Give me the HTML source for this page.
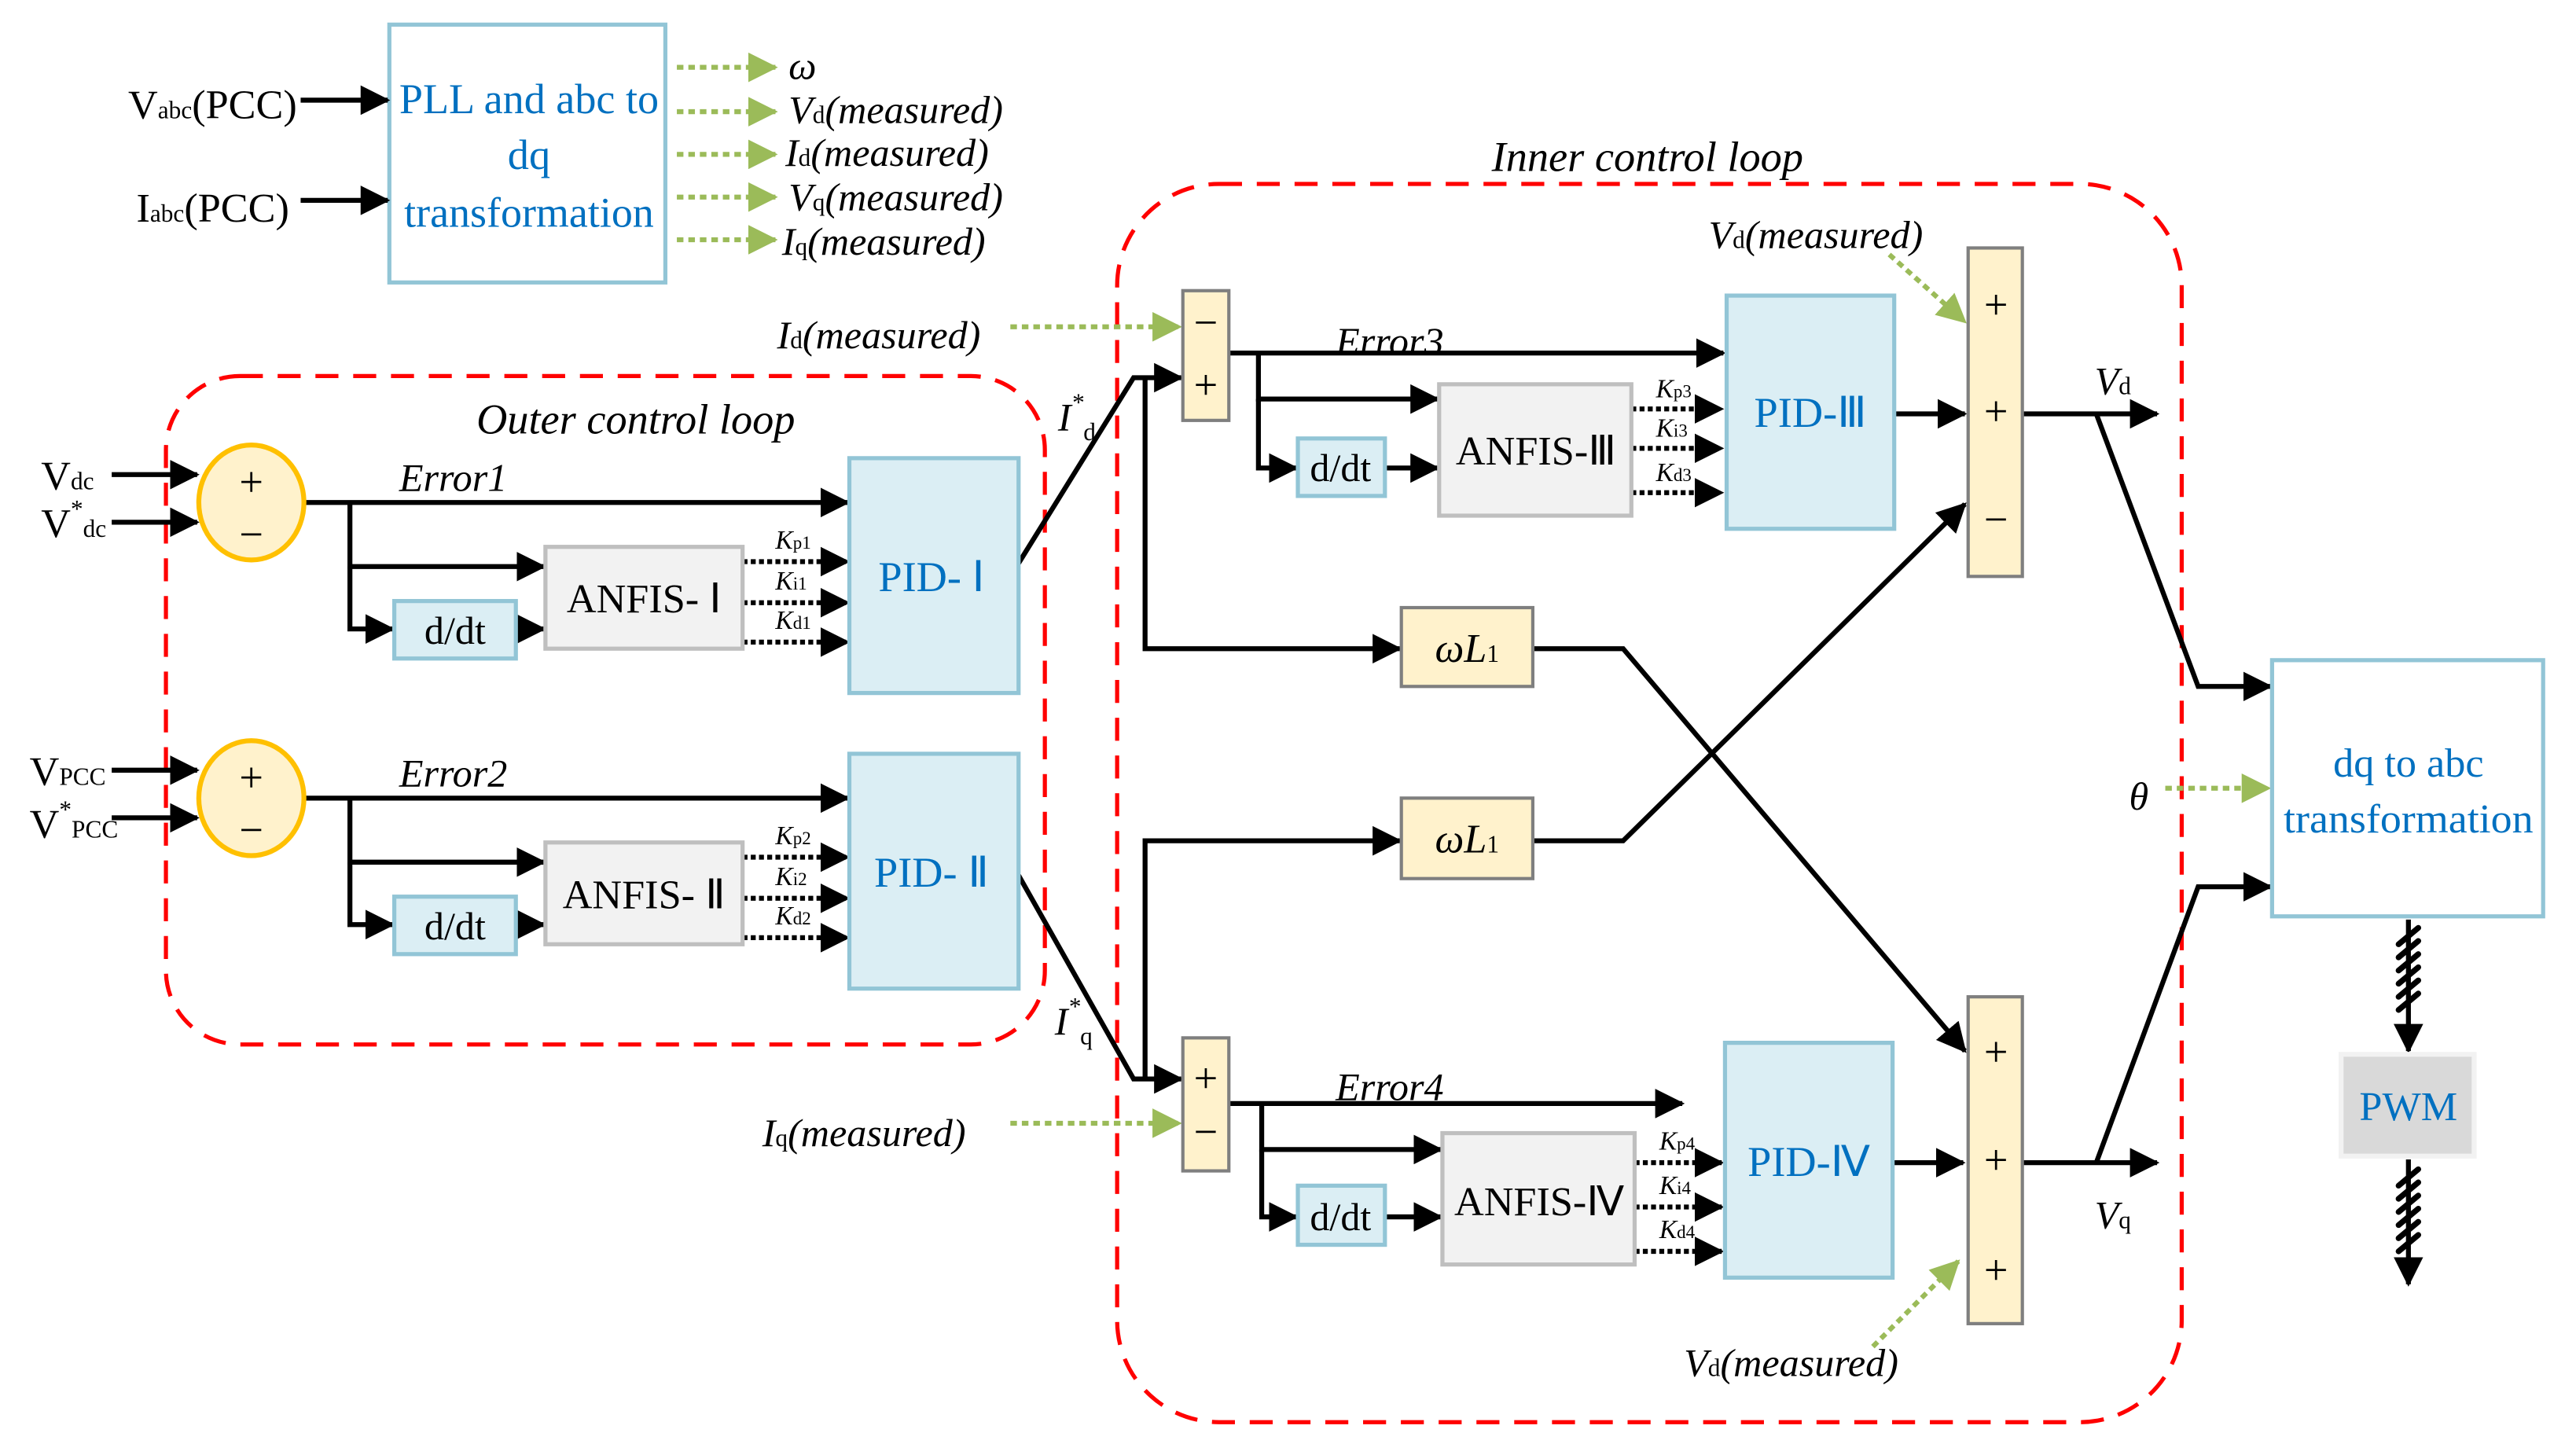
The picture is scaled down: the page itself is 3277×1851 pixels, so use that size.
<!DOCTYPE html>
<html><head><meta charset="utf-8"><style>
html,body{margin:0;padding:0;background:#fff}
svg{display:block}
text{font-family:"Liberation Serif",serif}
.it{font-style:italic}
.b{fill:#0070c0}
</style></head><body>
<svg width="3277" height="1851" viewBox="0 0 1568 886" preserveAspectRatio="none" xmlns="http://www.w3.org/2000/svg">
<defs>
<marker id="a" markerWidth="6" markerHeight="6" refX="5.5" refY="3" orient="auto" markerUnits="strokeWidth"><path d="M0,0 L6,3 L0,6 z" fill="#000"/></marker>
<marker id="g" markerWidth="6" markerHeight="6" refX="5.5" refY="3" orient="auto" markerUnits="strokeWidth"><path d="M0,0 L6,3 L0,6 z" fill="#9bbb59"/></marker>
</defs>
<g fill="none">
<rect x="101" y="229" width="535" height="407" rx="45" stroke="#ff0000" stroke-width="2.5" stroke-dasharray="14,9"/>
<rect x="680" y="112" width="648" height="754" rx="62" stroke="#ff0000" stroke-width="2.5" stroke-dasharray="14,9"/>
</g>
<rect x="237" y="15" width="168" height="157" fill="#fff" stroke="#92c5d6" stroke-width="2.5"/>
<text class="b" x="322" y="69" font-size="26" text-anchor="middle" textLength="158" lengthAdjust="spacingAndGlyphs">PLL and abc to</text>
<text class="b" x="322" y="103" font-size="26" text-anchor="middle">dq</text>
<text class="b" x="322" y="138" font-size="26" text-anchor="middle" textLength="152" lengthAdjust="spacingAndGlyphs">transformation</text>
<g stroke="#000" stroke-width="3" fill="none" marker-end="url(#a)">
<line x1="183" y1="61" x2="236" y2="61"/><line x1="183" y1="122" x2="236" y2="122"/>
</g>
<text x="78" y="72" font-size="25">V<tspan font-size="15">abc</tspan>(PCC)</text>
<text x="83" y="135" font-size="25">I<tspan font-size="15">abc</tspan>(PCC)</text>
<g stroke="#9bbb59" stroke-width="3" stroke-dasharray="4,3" fill="none" marker-end="url(#g)">
<line x1="412" y1="41" x2="472" y2="41"/><line x1="412" y1="68" x2="472" y2="68"/><line x1="412" y1="94" x2="472" y2="94"/><line x1="412" y1="120" x2="472" y2="120"/><line x1="412" y1="146" x2="472" y2="146"/>
<line x1="615" y1="199" x2="718" y2="199"/><line x1="615" y1="684" x2="718" y2="684"/>
<line x1="1150" y1="155" x2="1196" y2="196"/><line x1="1140" y1="820" x2="1192" y2="768"/>
<line x1="1318" y1="480" x2="1381" y2="480"/>
</g>
<g class="it" font-size="24">
<text x="480" y="48">ω</text>
<text x="480" y="75">V<tspan font-size="15" font-style="normal">d</tspan>(measured)</text>
<text x="478" y="101">I<tspan font-size="15" font-style="normal">d</tspan>(measured)</text>
<text x="480" y="128">V<tspan font-size="15" font-style="normal">q</tspan>(measured)</text>
<text x="476" y="155">I<tspan font-size="15" font-style="normal">q</tspan>(measured)</text>
<text x="473" y="212">I<tspan font-size="15" font-style="normal">d</tspan>(measured)</text>
<text x="464" y="698">I<tspan font-size="15" font-style="normal">q</tspan>(measured)</text>
<text x="1040" y="151">V<tspan font-size="15" font-style="normal">d</tspan>(measured)</text>
<text x="1025" y="838">V<tspan font-size="15" font-style="normal">d</tspan>(measured)</text>
<text x="290" y="264" font-size="26">Outer control loop</text>
<text x="908" y="104" font-size="26">Inner control loop</text>
<text x="243" y="299">Error1</text>
<text x="243" y="479">Error2</text>
<text x="813" y="216">Error3</text>
<text x="813" y="670">Error4</text>
<text x="1296" y="493">θ</text>
<text x="644" y="262">I<tspan font-size="15" dy="-12">*</tspan><tspan font-size="15" font-style="normal" dy="18">d</tspan></text>
<text x="642" y="630">I<tspan font-size="15" dy="-12">*</tspan><tspan font-size="15" font-style="normal" dy="18">q</tspan></text>
<text x="1275" y="240">V<tspan font-size="15" font-style="normal">d</tspan></text>
<text x="1275" y="748">V<tspan font-size="15" font-style="normal">q</tspan></text>
</g>
<text x="25" y="298" font-size="25">V<tspan font-size="15">dc</tspan></text>
<text x="25" y="327" font-size="25">V<tspan font-size="15" dy="-12">*</tspan><tspan font-size="15" dy="12">dc</tspan></text>
<text x="18" y="478" font-size="25">V<tspan font-size="15">PCC</tspan></text>
<text x="18" y="510" font-size="25">V<tspan font-size="15" dy="-12">*</tspan><tspan font-size="15" dy="12">PCC</tspan></text>
<g stroke="#000" stroke-width="3" fill="none">
<g marker-end="url(#a)">
<line x1="68" y1="289" x2="120" y2="289"/><line x1="68" y1="318" x2="120" y2="318"/>
<line x1="68" y1="469" x2="120" y2="469"/><line x1="68" y1="498" x2="120" y2="498"/>
<line x1="185" y1="306" x2="516" y2="306"/>
<polyline points="213,306 213,345 331,345"/><polyline points="213,345 213,383 239,383"/><line x1="314" y1="383" x2="331" y2="383"/>
<line x1="185" y1="486" x2="516" y2="486"/>
<polyline points="213,486 213,525 331,525"/><polyline points="213,525 213,563 239,563"/><line x1="314" y1="563" x2="331" y2="563"/>
<polyline points="620,343 690,230 719,230"/>
<polyline points="697,230 697,395 852,395"/>
<polyline points="620,533 690,657 719,657"/>
<polyline points="697,657 697,512 852,512"/>
<line x1="748" y1="215" x2="1049" y2="215"/>
<polyline points="766,215 766,243 875,243"/><polyline points="766,243 766,285 789,285"/><line x1="843" y1="285" x2="875" y2="285"/>
<line x1="1153" y1="252" x2="1196" y2="252"/>
<line x1="1231" y1="252" x2="1313" y2="252"/>
<polyline points="1276,252 1338,418 1382,418"/>
<polyline points="933,395 988,395 1196,640"/>
<polyline points="933,512 988,512 1196,307"/>
<line x1="748" y1="672" x2="1024" y2="672"/>
<polyline points="768,672 768,700 877,700"/><polyline points="768,700 768,741 789,741"/><line x1="843" y1="741" x2="877" y2="741"/>
<line x1="1152" y1="708" x2="1195" y2="708"/>
<line x1="1231" y1="708" x2="1313" y2="708"/>
<polyline points="1276,708 1338,540 1382,540"/>
<line x1="1466" y1="560" x2="1466" y2="640"/>
<line x1="1466" y1="706" x2="1466" y2="782"/>
</g>
<g stroke-dasharray="3,2" marker-end="url(#a)">
<line x1="452" y1="342" x2="516" y2="342"/><line x1="452" y1="367" x2="516" y2="367"/><line x1="452" y1="391" x2="516" y2="391"/>
<line x1="452" y1="522" x2="516" y2="522"/><line x1="452" y1="547" x2="516" y2="547"/><line x1="452" y1="571" x2="516" y2="571"/>
<line x1="993" y1="249" x2="1048" y2="249"/><line x1="993" y1="273" x2="1048" y2="273"/><line x1="993" y1="300" x2="1048" y2="300"/>
<line x1="995" y1="708" x2="1048" y2="708"/><line x1="995" y1="735" x2="1048" y2="735"/><line x1="995" y1="762" x2="1048" y2="762"/>
</g>
<g stroke-width="3.5" stroke-linecap="round">
<path d="M1460,575 l12,-10 M1460,583 l12,-10 M1460,591 l12,-10 M1460,599 l12,-10 M1460,607 l12,-10 M1460,615 l12,-10"/>
<path d="M1460,722 l12,-10 M1460,730 l12,-10 M1460,738 l12,-10 M1460,746 l12,-10 M1460,754 l12,-10 M1460,762 l12,-10"/>
</g>
</g>
<ellipse cx="153" cy="306" rx="32" ry="35" fill="#fff2cc" stroke="#ffc000" stroke-width="3"/>
<ellipse cx="153" cy="486" rx="32" ry="35" fill="#fff2cc" stroke="#ffc000" stroke-width="3"/>
<g font-size="26" text-anchor="middle">
<text x="153" y="302">+</text><text x="153" y="334">−</text>
<text x="153" y="482">+</text><text x="153" y="514">−</text>
</g>
<g fill="#fff2cc" stroke="#7f7f7f" stroke-width="2">
<rect x="720" y="177" width="28" height="79"/><rect x="720" y="632" width="28" height="81"/>
<rect x="1198" y="151" width="33" height="200"/><rect x="1198" y="607" width="33" height="199"/>
<rect x="853" y="370" width="80" height="48"/><rect x="853" y="486" width="80" height="49"/>
</g>
<g font-size="26" text-anchor="middle">
<text x="734" y="205">−</text><text x="734" y="243">+</text>
<text x="734" y="665">+</text><text x="734" y="698">−</text>
<text x="1215" y="194">+</text><text x="1215" y="259">+</text><text x="1215" y="325">−</text>
<text x="1215" y="649">+</text><text x="1215" y="715">+</text><text x="1215" y="782">+</text>
</g>
<g class="it" font-size="25" text-anchor="middle">
<text x="893" y="403">ωL<tspan font-size="15" font-style="normal">1</tspan></text>
<text x="893" y="519">ωL<tspan font-size="15" font-style="normal">1</tspan></text>
</g>
<g fill="#dbeef4" stroke="#92c5d6" stroke-width="2.5">
<rect x="240" y="366" width="74" height="35"/><rect x="240" y="546" width="74" height="35"/>
<rect x="790" y="267" width="53" height="35"/><rect x="790" y="722" width="53" height="36"/>
<rect x="517" y="279" width="103" height="143"/><rect x="517" y="459" width="103" height="143"/>
<rect x="1051" y="180" width="102" height="142"/><rect x="1050" y="635" width="102" height="143"/>
</g>
<g font-size="24" text-anchor="middle">
<text x="277" y="392">d/dt</text><text x="277" y="572">d/dt</text>
<text x="816" y="293">d/dt</text><text x="816" y="749">d/dt</text>
</g>
<g class="b" font-size="26" text-anchor="middle">
<text x="567" y="360">PID- Ⅰ</text><text x="567" y="540">PID- Ⅱ</text>
<text x="1102" y="260">PID-Ⅲ</text><text x="1101" y="716">PID-Ⅳ</text>
</g>
<g fill="#f2f2f2" stroke="#bfbfbf" stroke-width="2.5">
<rect x="332" y="333" width="120" height="62"/><rect x="332" y="513" width="120" height="62"/>
<rect x="876" y="234" width="117" height="80"/><rect x="878" y="690" width="117" height="80"/>
</g>
<g font-size="25" text-anchor="middle">
<text x="392" y="373">ANFIS- Ⅰ</text><text x="392" y="553">ANFIS- Ⅱ</text>
<text x="935" y="283">ANFIS-Ⅲ</text><text x="937" y="740">ANFIS-Ⅳ</text>
</g>
<g class="it" font-size="16">
<text x="472" y="334">K<tspan font-size="11" font-style="normal">p1</tspan></text>
<text x="472" y="359">K<tspan font-size="11" font-style="normal">i1</tspan></text>
<text x="472" y="383">K<tspan font-size="11" font-style="normal">d1</tspan></text>
<text x="472" y="514">K<tspan font-size="11" font-style="normal">p2</tspan></text>
<text x="472" y="539">K<tspan font-size="11" font-style="normal">i2</tspan></text>
<text x="472" y="563">K<tspan font-size="11" font-style="normal">d2</tspan></text>
<text x="1008" y="242">K<tspan font-size="11" font-style="normal">p3</tspan></text>
<text x="1008" y="266">K<tspan font-size="11" font-style="normal">i3</tspan></text>
<text x="1008" y="293">K<tspan font-size="11" font-style="normal">d3</tspan></text>
<text x="1010" y="700">K<tspan font-size="11" font-style="normal">p4</tspan></text>
<text x="1010" y="727">K<tspan font-size="11" font-style="normal">i4</tspan></text>
<text x="1010" y="754">K<tspan font-size="11" font-style="normal">d4</tspan></text>
</g>
<rect x="1383" y="402" width="165" height="156" fill="#fff" stroke="#92c5d6" stroke-width="2.5"/>
<text class="b" x="1466" y="473" font-size="25" text-anchor="middle">dq to abc</text>
<text class="b" x="1466" y="507" font-size="25" text-anchor="middle" textLength="152" lengthAdjust="spacingAndGlyphs">transformation</text>
<rect x="1425" y="642" width="81" height="62" fill="#d9d9d9" stroke="#f2f2f2" stroke-width="3"/>
<text class="b" x="1466" y="682" font-size="25" text-anchor="middle">PWM</text>
</svg>
</body></html>
